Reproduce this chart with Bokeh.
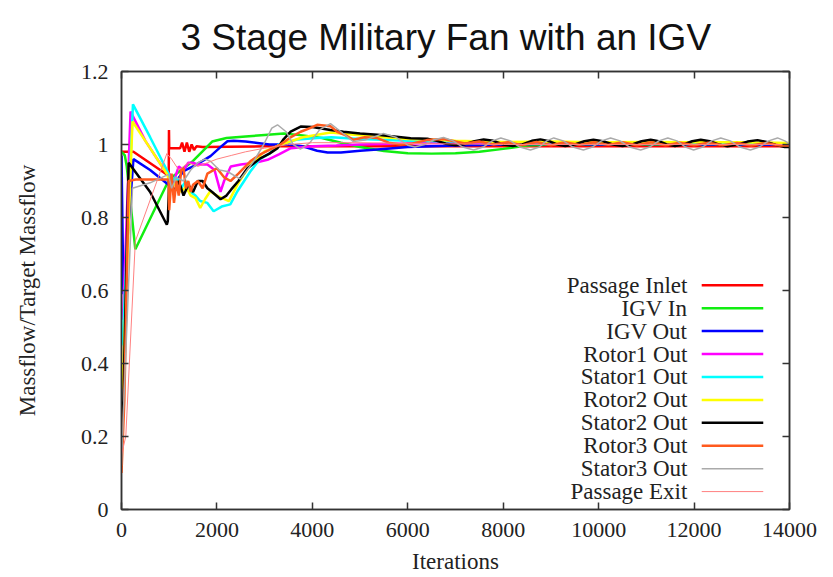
from bokeh.plotting import figure
from bokeh.models import Range1d, FixedTicker, LinearAxis, CustomJSTickFormatter
from bokeh.core.properties import value
from bokeh.embed import file_html
from bokeh.resources import INLINE

# ---------------- data ----------------
title_text = "3 Stage Military Fan with an IGV"
x_label = "Iterations"
y_label = "Massflow/Target Massflow"

x_ticks = [0, 2000, 4000, 6000, 8000, 10000, 12000, 14000]
x_tick_labels = ["0", "2000", "4000", "6000", "8000", "10000", "12000", "14000"]
y_ticks = [0, 0.2, 0.4, 0.6, 0.8, 1.0, 1.2]
y_tick_labels = ["0", "0.2", "0.4", "0.6", "0.8", "1", "1.2"]

series_names = ["Passage Inlet", "IGV In", "IGV Out", "Rotor1 Out", "Stator1 Out",
                "Rotor2 Out", "Stator2 Out", "Rotor3 Out", "Stator3 Out", "Passage Exit"]
series_colors = ["#ff0000", "#11ee11", "#0000ff", "#ff00ff", "#00ffff",
                 "#ffff00", "#000000", "#ff5a1e", "#aaaaaa", "#ff8080"]
series_widths = [2.5, 2.5, 2.5, 2.5, 2.5, 2.5, 2.5, 2.5, 1.5, 1.0]

passage_inlet_x = [0, 250, 980, 990, 995, 1000, 1150, 1230, 1270, 1320, 1370, 1420, 1470,
                   1520, 1570, 1700, 3000, 6000, 10000, 14000]
passage_inlet_y = [0.98, 0.98, 0.915, 0.915, 1.04, 0.99, 0.99, 0.99, 1.005, 0.98, 1.005, 0.98,
                   1.0, 0.985, 0.995, 0.993, 0.995, 0.995, 0.995, 0.995]

igv_in_x = [0, 70, 110, 290, 1000, 1500, 1900, 2200, 2600, 3000, 3400, 3800, 4200, 4600,
            5000, 5500, 6000, 6500, 7000, 7500, 8000, 8500, 9000, 10000, 12000, 14000]
igv_in_y = [0.98, 0.97, 0.94, 0.713, 0.905, 0.955, 1.008, 1.018, 1.022, 1.026, 1.03, 1.025,
            1.018, 1.005, 0.993, 0.982, 0.976, 0.975, 0.976, 0.98, 0.988, 0.997, 1.0, 1.0,
            1.0, 1.0]

igv_out_x = [0, 40, 250, 600, 985, 1150, 1300, 1500, 1700, 1865, 2050, 2220, 2350, 2600,
             2850, 3100, 3480, 3800, 4100, 4320, 4600, 5000, 5500, 6000, 7000, 8000, 9000,
             10000, 11000, 12000, 13000, 14000]
igv_out_y = [0.97, 0.59, 0.96, 0.93, 0.89, 0.9, 0.927, 0.94, 0.955, 0.968, 0.99, 1.009, 1.01,
             1.008, 1.004, 1.0, 1.0, 0.995, 0.983, 0.978, 0.978, 0.983, 0.988, 0.993, 0.997,
             1.0, 1.002, 1.0, 1.002, 1.0, 1.001, 0.998]

rotor1_out_x = [0, 40, 190, 500, 900, 1000, 1100, 1200, 1300, 1400, 1500, 1600, 1800, 1950,
                2075, 2150, 2290, 2500, 2800, 3060, 3300, 3550, 4000, 4500, 5000, 6000, 7000,
                8000, 9000, 10000, 11000, 12000, 13000, 14000]
rotor1_out_y = [0.52, 0.55, 1.09, 1.01, 0.93, 0.92, 0.9, 0.94, 0.93, 0.95, 0.95, 0.945, 0.945,
                0.93, 0.87, 0.9, 0.94, 0.945, 0.95, 0.958, 0.973, 0.99, 0.995, 0.997, 1.0,
                1.003, 1.005, 1.005, 1.005, 1.006, 1.005, 1.005, 1.005, 1.003]

stator1_out_x = [0, 40, 240, 600, 950, 1050, 1150, 1250, 1350, 1450, 1550, 1650, 1800, 1930,
                 2100, 2280, 2430, 2700, 2900, 3100, 3300, 3700, 4100, 4400, 5000, 6000, 7000,
                 8000, 9000, 10000, 11000, 12000, 13000, 14000]
stator1_out_y = [0.45, 0.5, 1.11, 1.02, 0.93, 0.9, 0.91, 0.88, 0.9, 0.87, 0.86, 0.845, 0.84,
                 0.817, 0.83, 0.836, 0.872, 0.926, 0.96, 0.975, 1.0, 1.014, 1.018, 1.02, 1.015,
                 1.01, 1.008, 1.006, 1.006, 1.006, 1.005, 1.005, 1.005, 1.003]

rotor2_out_x = [0, 40, 230, 600, 950, 1050, 1150, 1250, 1350, 1450, 1550, 1650, 1750, 1860,
                2000, 2100, 2250, 2430, 2700, 3000, 3350, 3800, 4380, 5000, 5500, 6000, 7000,
                8000, 9000, 10000, 11000, 12000, 13000, 14000]
rotor2_out_y = [0.33, 0.4, 1.063, 0.99, 0.92, 0.88, 0.9, 0.87, 0.885, 0.86, 0.853, 0.826, 0.85,
                0.872, 0.86, 0.854, 0.845, 0.89, 0.945, 0.981, 1.0, 1.02, 1.033, 1.025, 1.02,
                1.015, 1.01, 1.007, 1.008, 1.006, 1.007, 1.006, 1.006, 1.004]

stator2_out_x = [0, 40, 150, 600, 950, 970, 1000, 1100, 1200, 1300, 1400, 1500, 1600, 1700,
                 1800, 1900, 2075, 2200, 2300, 2450, 2640, 2910, 3100, 3270, 3400, 3545, 3755,
                 4000, 4380, 4650, 5000, 5360, 6060, 6410, 6610, 6800, 7000, 7200, 7400, 7590,
                 7790, 8000, 8200, 8400, 8600, 8780, 8960, 9130, 9300, 9500, 9700, 9890, 10090,
                 10300, 10500, 10700, 10900, 11090, 11260, 11430, 11600, 11780, 11960, 12140,
                 12330, 12510, 12700, 12910, 13120, 13330, 13520, 13710, 13900, 14000]
stator2_out_y = [0.22, 0.3, 0.95, 0.87, 0.78, 0.79, 0.9, 0.87, 0.9, 0.86, 0.89, 0.87, 0.9, 0.9,
                 0.88, 0.87, 0.85, 0.86, 0.877, 0.9, 0.935, 0.962, 0.975, 0.99, 1.015, 1.035,
                 1.049, 1.048, 1.04, 1.035, 1.03, 1.027, 1.017, 1.016, 1.01, 1.002, 0.998, 1.001,
                 1.009, 1.014, 1.01, 1.0, 0.996, 1.0, 1.01, 1.014, 1.009, 1.0, 0.996, 1.0, 1.009,
                 1.013, 1.009, 1.0, 0.996, 1.0, 1.009, 1.013, 1.009, 1.0, 0.996, 1.0, 1.009,
                 1.013, 1.009, 1.0, 0.995, 1.0, 1.008, 1.012, 1.007, 0.999, 0.993, 0.993]

rotor3_out_x = [0, 60, 150, 300, 985, 1000, 1050, 1100, 1150, 1200, 1250, 1300, 1350, 1400,
                1450, 1500, 1600, 1700, 1800, 2000, 2150, 2285, 2450, 2700, 2900, 3100, 3330,
                3550, 3755, 3950, 4100, 4380, 4520, 4700, 4860, 5100, 5350, 5600, 5850, 6100,
                6400, 6750, 7000, 7200, 7500, 7800, 8100, 8400, 8700, 9000, 9300, 9600, 9900,
                10200, 10500, 10800, 11100, 11400, 11700, 12000, 12300, 12600, 12900, 13200,
                13500, 13800, 14000]
rotor3_out_y = [0.1, 0.3, 0.9, 0.904, 0.904, 0.82, 0.92, 0.84, 0.9, 0.86, 0.93, 0.935, 0.88,
                0.9, 0.87, 0.89, 0.9, 0.88, 0.92, 0.935, 0.91, 0.9, 0.92, 0.954, 0.972, 0.985,
                1.0, 1.02, 1.035, 1.045, 1.054, 1.05, 1.035, 1.025, 1.013, 1.02, 1.018, 1.005,
                1.0, 1.003, 1.012, 1.015, 1.008, 1.003, 1.008, 1.0, 1.006, 0.998, 1.007, 0.998,
                1.006, 0.999, 1.006, 0.999, 1.006, 0.998, 1.006, 0.998, 1.005, 0.998, 1.005,
                0.998, 1.004, 0.997, 1.004, 0.997, 0.997]

stator3_out_x = [0, 50, 230, 600, 985, 1050, 1150, 1300, 1450, 1600, 1750, 1865, 2050, 2220,
                 2490, 2770, 2980, 3150, 3270, 3450, 3600, 3750, 3950, 4150, 4380, 4600, 4860,
                 5100, 5490, 5750, 6000, 6150, 6350, 6550, 6750, 6950, 7150, 7380, 7580, 7770,
                 7950, 8150, 8350, 8570, 8760, 8910, 9060, 9260, 9460, 9680, 9870, 10060, 10250,
                 10450, 10650, 10880, 11070, 11260, 11450, 11640, 11820, 11990, 12180, 12370,
                 12560, 12760, 12960, 13180, 13370, 13560, 13750, 13900, 14000]
stator3_out_y = [0.12, 0.3, 0.88, 0.895, 0.918, 0.88, 0.91, 0.9, 0.93, 0.95, 0.96, 0.954, 0.93,
                 0.926, 0.905, 0.954, 1.0, 1.045, 1.054, 1.035, 1.0, 0.987, 1.005, 1.04, 1.057,
                 1.035, 1.008, 1.012, 1.03, 1.02, 0.998, 0.993, 1.0, 1.013, 1.019, 1.01, 0.993,
                 0.985, 0.993, 1.01, 1.018, 1.01, 0.993, 0.985, 0.993, 1.01, 1.018, 1.01, 0.993,
                 0.985, 0.993, 1.01, 1.018, 1.01, 0.993, 0.985, 0.993, 1.01, 1.018, 1.01, 0.993,
                 0.985, 0.993, 1.01, 1.018, 1.01, 0.993, 0.985, 0.993, 1.01, 1.018, 1.01, 1.002]

passage_exit_x = [0, 90, 290, 950, 1050, 1200, 1400, 1600, 1800, 2000, 2300, 2600, 3000, 3500,
                  4000, 5000, 6000, 8000, 10000, 12000, 14000]
passage_exit_y = [0.15, 0.2, 0.735, 0.975, 0.96, 0.93, 0.95, 0.94, 0.95, 0.96, 0.97, 0.98, 0.99,
                  1.0, 1.005, 1.005, 1.003, 1.0, 1.0, 1.0, 1.0]

series_x = [passage_inlet_x, igv_in_x, igv_out_x, rotor1_out_x, stator1_out_x,
            rotor2_out_x, stator2_out_x, rotor3_out_x, stator3_out_x, passage_exit_x]
series_y = [passage_inlet_y, igv_in_y, igv_out_y, rotor1_out_y, stator1_out_y,
            rotor2_out_y, stator2_out_y, rotor3_out_y, stator3_out_y, passage_exit_y]

# ---------------- layout / style ----------------
SERIF = "Liberation Serif"
SANS = "Liberation Sans"
AX = "#333333"

p = figure(width=825, height=577, output_backend="svg", toolbar_location=None,
           x_range=Range1d(0, 14000), y_range=Range1d(0, 1.2),
           min_border_left=121, min_border_right=36, min_border_top=70, min_border_bottom=68)
p.title.text = title_text
p.title.align = "left"
p.title.offset = 59
p.title.text_font = SANS
p.title.text_font_size = "37px"
p.title.text_font_style = "normal"
p.title.text_color = "#111111"
p.title.standoff = 28
p.grid.visible = False
p.outline_line_color = AX
p.outline_line_width = 1.5
p.background_fill_color = "white"
p.border_fill_color = "white"

FMT_CODE = "const i = tk.findIndex(t => Math.abs(t - tick) < 1e-6); return i >= 0 ? lb[i] : '';"
xfmt = CustomJSTickFormatter(args=dict(tk=x_ticks, lb=x_tick_labels), code=FMT_CODE)
yfmt = CustomJSTickFormatter(args=dict(tk=y_ticks, lb=y_tick_labels), code=FMT_CODE)

xa = p.below[0]
ya = p.left[0]
xa.ticker = FixedTicker(ticks=x_ticks)
xa.formatter = xfmt
xa.axis_label = x_label
xa.major_label_standoff = 13
xa.axis_label_standoff = 9
ya.ticker = FixedTicker(ticks=y_ticks)
ya.formatter = yfmt
ya.axis_label = y_label
ya.major_label_standoff = 13
ya.axis_label_standoff = 38

top_axis = LinearAxis(ticker=FixedTicker(ticks=x_ticks), formatter=CustomJSTickFormatter(code="return '';"))
right_axis = LinearAxis(ticker=FixedTicker(ticks=y_ticks), formatter=CustomJSTickFormatter(code="return '';"))
for ax in (top_axis, right_axis):
    ax.major_label_standoff = 0
p.add_layout(top_axis, "above")
p.add_layout(right_axis, "right")

for ax in (xa, ya, top_axis, right_axis):
    ax.major_tick_in = 7
    ax.major_tick_out = 0
    ax.minor_tick_in = 0
    ax.minor_tick_out = 0
    ax.major_tick_line_color = AX
    ax.major_tick_line_width = 1.5
    ax.axis_line_color = AX
    ax.axis_line_width = 1.5
for ax in (xa, ya):
    ax.major_label_text_font = SERIF
    ax.major_label_text_font_size = "22px"
    ax.major_label_text_color = "#222222"
    ax.axis_label_text_font = SERIF
    ax.axis_label_text_font_size = "23px"
    ax.axis_label_text_font_style = "normal"
    ax.axis_label_text_color = "#222222"

# series
for xs, ys, c, w in zip(series_x, series_y, series_colors, series_widths):
    p.line(xs, ys, line_color=c, line_width=w)

# legend (label right-aligned, sample on the right), positions in data units
leg_text_x = 11860
leg_x0, leg_x1 = 12160, 13450
leg_top, leg_step = 0.6143, 0.0628
leg_y = [leg_top - i * leg_step for i in range(len(series_names))]
p.text(x=[leg_text_x] * len(series_names), y=leg_y, text=series_names,
       text_align="right", text_baseline="middle", text_font=value(SERIF),
       text_font_size="23px", text_color="#222222")
p.segment(x0=[leg_x0] * len(series_names), y0=leg_y, x1=[leg_x1] * len(series_names), y1=leg_y,
          line_color=series_colors, line_width=series_widths)

open("out.html", "w").write(file_html(p, INLINE))
